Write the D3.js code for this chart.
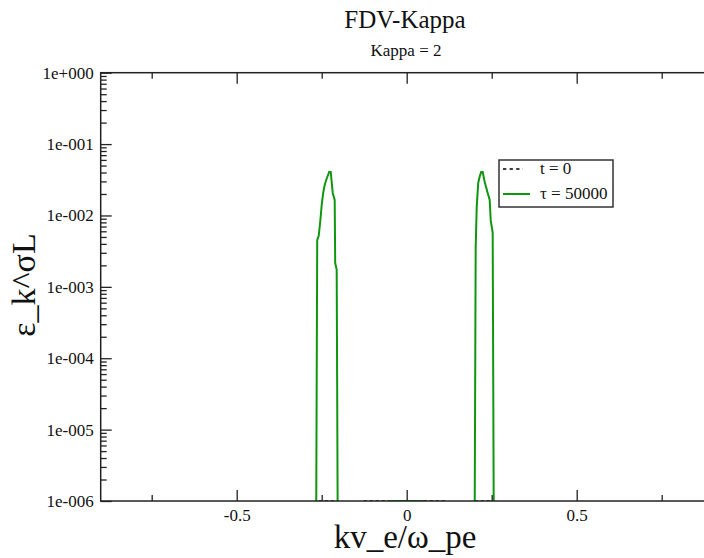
<!doctype html>
<meta charset="utf-8">
<style>
body {
  margin: 0;
  background: #fff;
}
svg text {
  font-family: "Liberation Serif", "DejaVu Serif", serif;
}
</style>
<script src="https://cdn.jsdelivr.net/npm/d3@7"></script>
<body>

<script>

// data (k, epsilon)
var kTau = [-0.2676, -0.2632, -0.2588, -0.2544, -0.25, -0.2456, -0.2412, -0.2368, -0.2324, -0.228, -0.2235,
  -0.2176, -0.2118, -0.2103, -0.2059, -0.2015,
  -0.0505, -0.05, 0.047, 0.0475,
  0.1985, 0.2029, 0.2059, 0.2103, 0.2147, 0.2191, 0.2235, 0.2294, 0.2382, 0.2441, 0.2471, 0.2529, 0.2574];
var epsTau = [1e-8, 4.5e-3, 5.2e-3, 8.1e-3, 1.4e-2, 2.07e-2, 2.67e-2, 3.14e-2, 3.57e-2, 4.07e-2, 4.07e-2,
  2.07e-2, 1.65e-2, 2.16e-3, 1.73e-3, 1e-8,
  1e-8, 1e-6, 1e-6, 1e-8,
  1e-8, 3.5e-3, 1.31e-2, 2.85e-2, 3.5e-2, 4.07e-2, 4.07e-2, 2.94e-2, 2.07e-2, 1.65e-2, 8.6e-3, 5.7e-3, 1e-8];

var kT0 = [-0.2625, -0.2618, -0.2059, -0.2052, -0.133, -0.1324, 0.1176, 0.1182, 0.1994, 0.2, 0.25, 0.2506];
var epsT0 = [1e-8, 1e-6, 1e-6, 1e-8, 1e-8, 1e-6, 1e-6, 1e-8, 1e-8, 1e-6, 1e-6, 1e-8];

var xTicks = [-0.5, 0, 0.5];
var xMinor = [-0.75, -0.25, 0.25, 0.75];
var yTicks = [1, 1e-1, 1e-2, 1e-3, 1e-4, 1e-5, 1e-6];
var legendLabels = ["t = 0", "\u03c4 = 50000"];

var w = 704, h = 558;
var pLeft = 100.7, pRight = 712.7, pTop = 72.7, pBottom = 501;
var serif = "'Liberation Serif', 'DejaVu Serif', serif";

var svg = d3.select("body")
  .append("svg")
    .attr("width", w)
    .attr("height", h)

var x = d3.scaleLinear().domain([-0.9, 0.9]).range([pLeft, pRight]);
var y = d3.scaleLog().domain([1e-6, 1]).range([pBottom, pTop]);

svg.append("defs").append("clipPath")
    .attr("id", "plot")
  .append("rect")
    .attr("x", pLeft)
    .attr("y", pTop - 1)
    .attr("width", pRight - pLeft)
    .attr("height", pBottom - pTop + 1);

var fmt = function(d) {
  var e = Math.round(Math.log10(d));
  return "1e" + (e < 0 ? "-" : "+") + String(Math.abs(e)).padStart(3, "0");
};

var yMinor = y.ticks().filter(function(d) {
  return Math.abs(Math.log10(d) - Math.round(Math.log10(d))) > 1e-6;
});

// curves
var line = d3.line()
    .x(function(d) { return x(d[0]); })
    .y(function(d) { return y(d[1]); });

var g = svg.append("g").attr("clip-path", "url(#plot)");

g.append("path")
    .datum(d3.zip(kT0, epsT0))
    .attr("d", line)
    .style("fill", "none")
    .style("stroke", "#000")
    .style("stroke-width", 1.5)
    .style("stroke-dasharray", "3,3");

g.append("path")
    .datum(d3.zip(kTau, epsTau))
    .attr("d", line)
    .style("fill", "none")
    .style("stroke", "#0f960f")
    .style("stroke-width", 2);

// axes, ticks pointing inside
function styleAxis(sel) {
  sel.attr("font-family", serif);
  sel.select(".domain").remove();
  sel.selectAll("line").style("stroke", "#222").style("stroke-width", 1.3);
  sel.selectAll("text")
      .style("font-family", serif)
      .style("font-size", "17px")
      .style("fill", "#111");
}

svg.append("g")
    .attr("transform", "translate(0," + pBottom + ")")
    .call(d3.axisBottom(x).tickValues(xTicks).tickSize(-11).tickPadding(8).tickFormat(function(d) { return String(d); }))
    .call(styleAxis);
svg.append("g")
    .attr("transform", "translate(0," + pBottom + ")")
    .call(d3.axisBottom(x).tickValues(xMinor).tickSize(-6).tickFormat(""))
    .call(styleAxis);
svg.append("g")
    .attr("transform", "translate(0," + pTop + ")")
    .call(d3.axisTop(x).tickValues(xTicks).tickSize(-11).tickFormat(""))
    .call(styleAxis);
svg.append("g")
    .attr("transform", "translate(0," + pTop + ")")
    .call(d3.axisTop(x).tickValues(xMinor).tickSize(-6).tickFormat(""))
    .call(styleAxis);

svg.append("g")
    .attr("transform", "translate(" + pLeft + ",0)")
    .call(d3.axisLeft(y).tickValues(yTicks).tickSize(-11).tickPadding(7).tickFormat(fmt))
    .call(styleAxis);
svg.append("g")
    .attr("transform", "translate(" + pLeft + ",0)")
    .call(d3.axisLeft(y).tickValues(yMinor).tickSize(-6).tickFormat(""))
    .call(styleAxis);

svg.append("rect")
    .attr("x", pLeft)
    .attr("y", pTop)
    .attr("width", pRight - pLeft)
    .attr("height", pBottom - pTop)
    .style("fill", "none")
    .style("stroke", "#222")
    .style("stroke-width", 1.5);

// titles
svg.append("text")
    .attr("x", 405)
    .attr("y", 28)
    .attr("text-anchor", "middle")
    .style("font-family", serif)
    .style("font-size", "25px")
    .style("fill", "#111")
    .text("FDV-Kappa");

svg.append("text")
    .attr("x", 406)
    .attr("y", 56)
    .attr("text-anchor", "middle")
    .style("font-family", serif)
    .style("font-size", "17px")
    .style("fill", "#111")
    .text("Kappa = 2");

svg.append("text")
    .attr("x", 405)
    .attr("y", 548)
    .attr("text-anchor", "middle")
    .style("font-family", serif)
    .style("font-size", "33px")
    .style("fill", "#111")
    .text("kv_e/\u03c9_pe");

svg.append("text")
    .attr("transform", "translate(35,285) rotate(-90)")
    .attr("text-anchor", "middle")
    .style("font-family", serif)
    .style("font-size", "34px")
    .style("fill", "#111")
    .text("\u03b5_k^\u03c3L");

// legend
var legend = svg.append("g").attr("transform", "translate(499,160)");

legend.append("rect")
    .attr("width", 114)
    .attr("height", 47)
    .style("fill", "#fff")
    .style("stroke", "#333")
    .style("stroke-width", 1.5);

legend.selectAll("line")
    .data(legendLabels)
  .enter().append("line")
    .attr("x1", 4)
    .attr("x2", function(d, i) { return i ? 31 : 24; })
    .attr("y1", function(d, i) { return 9 + i * 25; })
    .attr("y2", function(d, i) { return 9 + i * 25; })
    .style("stroke", function(d, i) { return i ? "#0f960f" : "#000"; })
    .style("stroke-width", function(d, i) { return i ? 2 : 1.5; })
    .style("stroke-dasharray", function(d, i) { return i ? null : "3.3,3.3"; });

legend.selectAll("text")
    .data(legendLabels)
  .enter().append("text")
    .attr("x", 41)
    .attr("y", function(d, i) { return 14 + i * 25; })
    .style("font-family", serif)
    .style("font-size", "17px")
    .style("fill", "#111")
    .text(function(d) { return d; });

</script>
